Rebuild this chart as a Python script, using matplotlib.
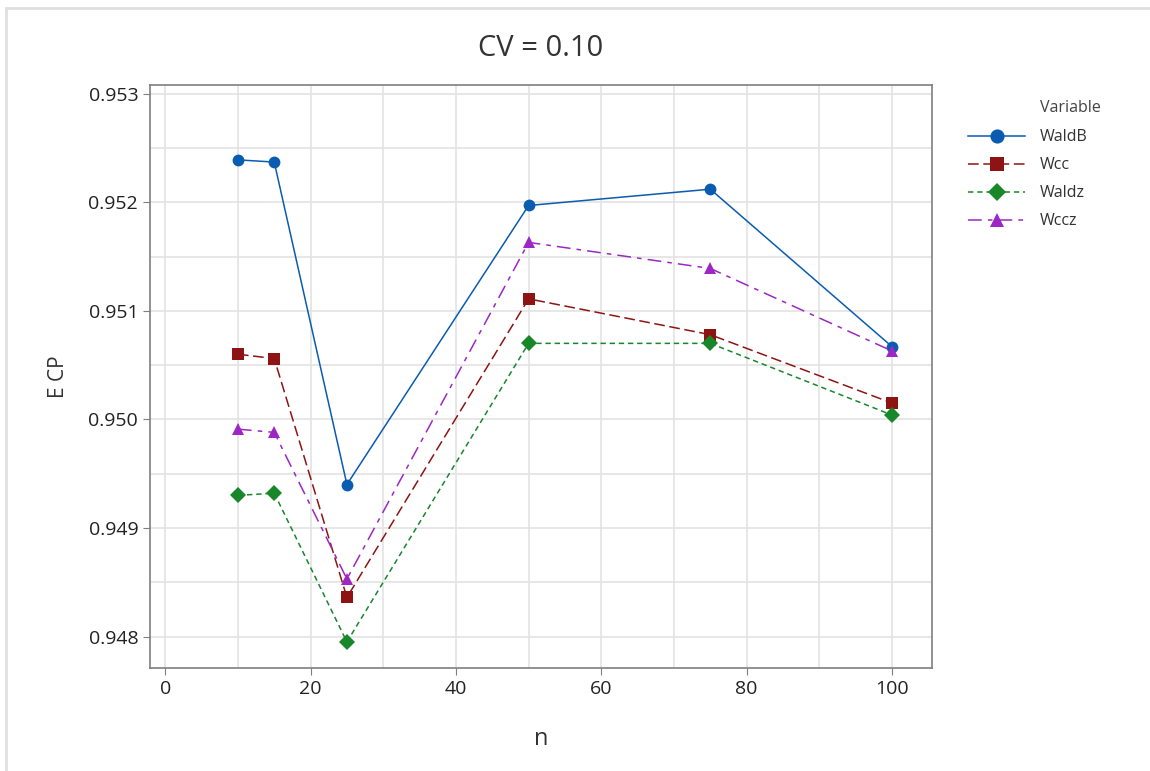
import matplotlib
matplotlib.use("Agg")
import matplotlib.pyplot as plt
from matplotlib.lines import Line2D
from matplotlib.ticker import MultipleLocator, FormatStrFormatter

plt.rcParams['font.family'] = ['Open Sans', 'DejaVu Sans']

n = [10, 15, 25, 50, 75, 100]
waldb = [0.95239, 0.95237, 0.94940, 0.95197, 0.95212, 0.95067]
wcc = [0.95060, 0.95056, 0.94836, 0.95111, 0.95078, 0.95015]
waldz = [0.94930, 0.94932, 0.94795, 0.95070, 0.95070, 0.95004]
wccz = [0.94991, 0.94988, 0.94853, 0.95163, 0.95139, 0.95063]

series = [
    ("WaldB", waldb, "#0a5cb0", "o", 8.5, None),
    ("Wcc", wcc, "#8e1414", "s", 8, (7, 3)),
    ("Waldz", waldz, "#17872a", "D", 8, (3.5, 2.5)),
    ("Wccz", wccz, "#9c27c4", "^", 8.5, (9, 4, 3, 4)),
]

fig = plt.figure(figsize=(11.5, 7.71), dpi=100)
ax = fig.add_axes([0.1304, 0.1336, 0.68, 0.7562])

for name, vals, color, marker, ms, dash in series:
    line, = ax.plot(n, vals, color=color, marker=marker, markersize=ms,
                    linewidth=1.1, label=name, markeredgewidth=0)
    if dash is not None:
        line.set_dashes(dash)

ax.set_xlim(-2.1, 105.5)
ax.set_ylim(0.94771, 0.95308)
ax.xaxis.set_major_locator(MultipleLocator(20))
ax.xaxis.set_minor_locator(MultipleLocator(10))
ax.yaxis.set_major_locator(MultipleLocator(0.001))
ax.yaxis.set_minor_locator(MultipleLocator(0.0005))
ax.yaxis.set_major_formatter(FormatStrFormatter('%.3f'))

ax.grid(True, which='both', color='#e3e3e3', linewidth=1.2)
ax.set_axisbelow(True)
for sp in ax.spines.values():
    sp.set_color('#7f7f7f')
    sp.set_linewidth(1.2)
ax.tick_params(axis='both', which='major', direction='out', length=5,
               color='#7f7f7f', labelsize=14, labelcolor='#222222')
ax.tick_params(axis='both', which='minor', length=0)

ax.set_title("CV = 0.10", fontsize=21, color='#333333', pad=21)
ax.set_xlabel("n", fontsize=17, color='#333333', labelpad=21)
ax.set_ylabel("E CP", fontsize=15, color='#333333', labelpad=14)

leg = ax.legend(loc='upper left', bbox_to_anchor=(1.046, 0.924),
                frameon=False, fontsize=11.5, markerscale=1.2,
                handlelength=3.6, handletextpad=0.9, labelspacing=0.75,
                borderaxespad=0, borderpad=0)
for t in leg.get_texts():
    t.set_color('#333333')
fig.text(1040 / 1150, 1 - 108 / 771, "Variable", fontsize=11.5,
         color='#444444', ha='left', va='center')

# light outer frame along top and left edges
fig.add_artist(Line2D([0.005, 1.0], [0.990, 0.990], transform=fig.transFigure,
                      color='#e0e0e0', linewidth=2))
fig.add_artist(Line2D([0.005, 0.005], [0.0, 0.990], transform=fig.transFigure,
                      color='#e0e0e0', linewidth=2))

fig.savefig("out.png", dpi=100)
